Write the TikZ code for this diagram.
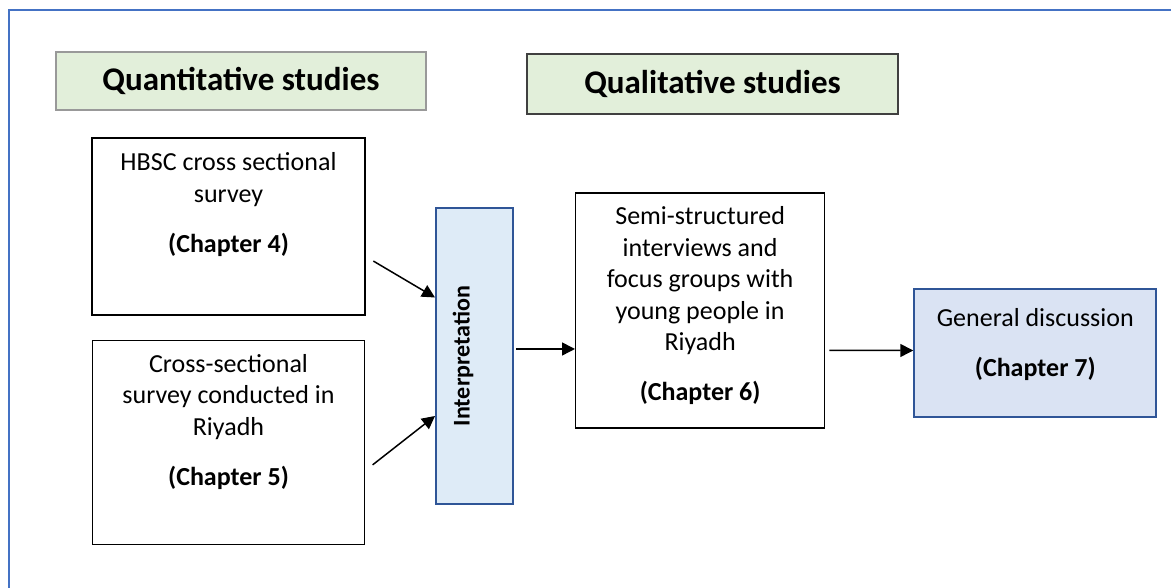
\documentclass[tikz,border=0pt]{standalone}
\usepackage{fontspec}
\setmainfont{Carlito}
\usepackage{graphicx}
\usepackage{tikz}
\usetikzlibrary{positioning, arrows.meta}
\definecolor{headgreen}{HTML}{E2EFDA}
\definecolor{interpblue}{HTML}{DEEBF7}
\definecolor{discblue}{HTML}{DAE3F3}
\definecolor{frameblue}{HTML}{4472C4}
\definecolor{edgeblue}{HTML}{2F5597}
\tikzstyle{arrow} = [line width=0.03cm, -{Triangle[length=0.26cm, width=0.26cm]}]
\newcommand{\boxfont}{\fontsize{14.8pt}{17.9pt}\selectfont}
\newcommand{\boxtext}[4]{\parbox[c][#2][t]{#1}{\centering\boxfont\rule{0pt}{#3}#4}}

\begin{document}
\begin{tikzpicture}[node distance=0.48cm,
    head/.style={rectangle, fill=headgreen, line width=0.025cm, inner sep=0pt, font=\fontsize{18.8pt}{22pt}\selectfont\bfseries},
    stage/.style={rectangle, draw=black, line width=0.025cm, inner sep=0pt}]
    \useasboundingbox (0,0) rectangle (23.42,11.76);
    % outer frame, cut off at the right and bottom
    \draw[frameblue, line width=0.04cm] (0.18,0) -- (0.18,11.56) -- (23.42,11.56);

    % Headings
    \node[head, draw=gray!80, minimum width=7.40cm, minimum height=1.16cm] (quant) at (4.82,10.14) {Quantitative studies};
    \node[head, draw=black!75, minimum width=7.42cm, minimum height=1.20cm] (qual) at (14.25,10.08) {Qualitative studies};

    % Quantitative strand
    \node[stage] (hbsc) at (4.57,7.23) {\boxtext{5.46cm}{3.54cm}{0.66cm}{HBSC cross sectional\\survey\\[0.37cm]\textbf{(Chapter 4)}}};
    \node[stage, below=0.48cm of hbsc] (cross) {\boxtext{5.44cm}{4.08cm}{0.64cm}{Cross-sectional\\survey conducted in\\Riyadh\\[0.37cm]\textbf{(Chapter 5)}}};
    \node[stage, fill=interpblue, draw=edgeblue, line width=0.04cm, minimum width=1.54cm, minimum height=5.92cm,
          font=\fontsize{13.66pt}{16pt}\selectfont\bfseries] (interp) at (9.49,4.64) {\rotatebox{90}{\smash{\raisebox{0.1cm}{Interpretation}}}};

    % Qualitative strand
    \node[stage, right=1.22cm of interp, yshift=0.91cm] (semi) {\boxtext{4.98cm}{4.70cm}{0.64cm}{Semi-structured\\interviews and\\focus groups with\\young people in\\Riyadh\\[0.37cm]\textbf{(Chapter 6)}}};
    \node[stage, fill=discblue, draw=edgeblue, line width=0.04cm, right=1.76cm of semi, yshift=-0.85cm] (disc) {\boxtext{4.84cm}{2.56cm}{0.76cm}{General discussion\\[0.36cm]\textbf{(Chapter 7)}}};

    % Arrows
    \draw[arrow, shorten <=0.18cm] ([yshift=-0.60cm]hbsc.east) -- ([yshift=1.17cm]interp.west);
    \draw[arrow, shorten <=0.19cm] ([yshift=-0.57cm]cross.east) -- ([yshift=-1.20cm]interp.west);
    \draw[arrow, shorten <=0.04cm] ([yshift=0.14cm]interp.east) -- ([yshift=-0.77cm]semi.west);
    \draw[arrow, shorten <=0.08cm] ([yshift=-0.80cm]semi.east) -- ([yshift=0.05cm]disc.west);
\end{tikzpicture}
\end{document}
